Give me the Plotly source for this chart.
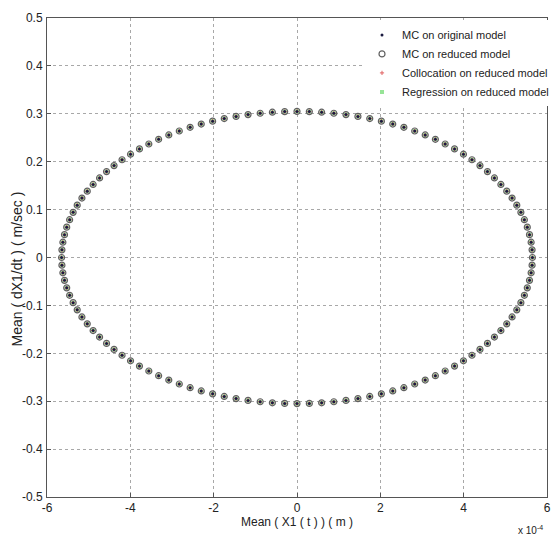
import plotly.graph_objects as go

# Mean(X1(t)) in units of 1e-4 m, read from the ellipse
mean_x1_e4 = [
    5.650, 5.642, 5.619, 5.580, 5.527, 5.457, 5.373, 5.275, 5.162, 5.034,
    4.893, 4.738, 4.571, 4.391, 4.199, 3.995, 3.781, 3.556, 3.321, 3.077,
    2.825, 2.565, 2.298, 2.025, 1.746, 1.462, 1.175, 0.884, 0.591, 0.296,
    0.000, -0.296, -0.591, -0.884, -1.175, -1.462, -1.746, -2.025, -2.298, -2.565,
    -2.825, -3.077, -3.321, -3.556, -3.781, -3.995, -4.199, -4.391, -4.571, -4.738,
    -4.893, -5.034, -5.162, -5.275, -5.373, -5.457, -5.527, -5.580, -5.619, -5.642,
    -5.650, -5.642, -5.619, -5.580, -5.527, -5.457, -5.373, -5.275, -5.162, -5.034,
    -4.893, -4.738, -4.571, -4.391, -4.199, -3.995, -3.781, -3.556, -3.321, -3.077,
    -2.825, -2.565, -2.298, -2.025, -1.746, -1.462, -1.175, -0.884, -0.591, -0.296,
    0.000, 0.296, 0.591, 0.884, 1.175, 1.462, 1.746, 2.025, 2.298, 2.565,
    2.825, 3.077, 3.321, 3.556, 3.781, 3.995, 4.199, 4.391, 4.571, 4.738,
    4.893, 5.034, 5.162, 5.275, 5.373, 5.457, 5.527, 5.580, 5.619, 5.642,
]
mean_dx1dt = [
    0.0000, 0.0160, 0.0319, 0.0477, 0.0634, 0.0789, 0.0943, 0.1093, 0.1241, 0.1385,
    0.1525, 0.1661, 0.1793, 0.1919, 0.2041, 0.2157, 0.2267, 0.2370, 0.2468, 0.2558,
    0.2641, 0.2718, 0.2786, 0.2847, 0.2901, 0.2946, 0.2983, 0.3012, 0.3033, 0.3046,
    0.3050, 0.3046, 0.3033, 0.3012, 0.2983, 0.2946, 0.2901, 0.2847, 0.2786, 0.2718,
    0.2641, 0.2558, 0.2468, 0.2370, 0.2267, 0.2157, 0.2041, 0.1919, 0.1793, 0.1661,
    0.1525, 0.1385, 0.1241, 0.1093, 0.0943, 0.0789, 0.0634, 0.0477, 0.0319, 0.0160,
    0.0000, -0.0160, -0.0319, -0.0477, -0.0634, -0.0789, -0.0943, -0.1093, -0.1241, -0.1385,
    -0.1525, -0.1661, -0.1793, -0.1919, -0.2041, -0.2157, -0.2267, -0.2370, -0.2468, -0.2558,
    -0.2641, -0.2718, -0.2786, -0.2847, -0.2901, -0.2946, -0.2983, -0.3012, -0.3033, -0.3046,
    -0.3050, -0.3046, -0.3033, -0.3012, -0.2983, -0.2946, -0.2901, -0.2847, -0.2786, -0.2718,
    -0.2641, -0.2558, -0.2468, -0.2370, -0.2267, -0.2157, -0.2041, -0.1919, -0.1793, -0.1661,
    -0.1525, -0.1385, -0.1241, -0.1093, -0.0943, -0.0789, -0.0634, -0.0477, -0.0319, -0.0160,
]

series_names = [
    "MC on original model",
    "MC on reduced model",
    "Collocation on reduced model",
    "Regression on reduced model",
]
x_ticks = [-6, -4, -2, 0, 2, 4, 6]
y_ticks = [-0.5, -0.4, -0.3, -0.2, -0.1, 0, 0.1, 0.2, 0.3, 0.4, 0.5]

FONT = "Liberation Sans Narrow, Liberation Sans, Arial, sans-serif"
TXT = "#222222"

fig = go.Figure()
styles = [
    dict(symbol="square", size=4, color="rgba(140,225,140,0.9)", line=dict(width=0)),
    dict(symbol="cross-thin", size=3, color="rgba(0,0,0,0)", line=dict(width=1, color="#e06060")),
    dict(symbol="circle-open", size=6, color="#606060", line=dict(width=1.2, color="#606060")),
    dict(symbol="circle", size=3, color="#1a1a40", line=dict(width=0)),
]
order = [3, 2, 1, 0]
for idx, st in zip(order, styles):
    fig.add_trace(go.Scatter(
        x=mean_x1_e4, y=mean_dx1dt, mode="markers", name=series_names[idx],
        marker=st, legendrank=idx + 1,
    ))

axis_common = dict(
    showline=True, linecolor="#555555", linewidth=1, mirror=True,
    showgrid=True, gridcolor="#a8a8a8", griddash="dot", gridwidth=1,
    zeroline=False, ticks="inside", ticklen=4, tickcolor="#555555",
    tickfont=dict(family=FONT, size=12, color=TXT), automargin=False,
    ticklabeloverflow="allow",
)
fig.update_xaxes(range=[-6, 6], tickvals=x_ticks, ticktext=[str(v) for v in x_ticks],
                 ticklabelstandoff=0, **axis_common)
fig.update_yaxes(range=[-0.5, 0.5], tickvals=y_ticks, ticktext=[("%g" % v) for v in y_ticks],
                 ticklabelstandoff=1, **axis_common)

fig.add_annotation(x=0.5, y=0, xref="paper", yref="paper", xanchor="center", yanchor="top",
                   yshift=-16, showarrow=False, text="Mean ( X1 ( t ) ) ( m )",
                   font=dict(family=FONT, size=12, color=TXT))
fig.add_annotation(x=0, y=0.5, xref="paper", yref="paper", xanchor="center", yanchor="middle",
                   xshift=-31, yshift=-12, showarrow=False, textangle=-90,
                   text="Mean ( dX1/dt ) ( m/sec )",
                   font=dict(family=FONT, size=14, color=TXT))
fig.add_annotation(x=1, y=0, xref="paper", yref="paper", xanchor="right", yanchor="top",
                   xshift=-2, yshift=-25, showarrow=False,
                   text="x 10<sup>-4</sup>", font=dict(family=FONT, size=10, color=TXT))

fig.update_layout(
    width=553, height=536,
    margin=dict(l=47, r=6, t=18, b=39, autoexpand=False),
    paper_bgcolor="white", plot_bgcolor="white",
    showlegend=True,
    legend=dict(x=1.014, y=0.995, xanchor="right", yanchor="top", bgcolor="white",
                borderwidth=0, font=dict(family=FONT, size=11, color=TXT),
                tracegroupgap=0, itemsizing="trace"),
)

fig.write_html("out.html", config={"displayModeBar": False},
               post_script="document.body.style.margin='0';document.body.style.overflow='hidden';")
